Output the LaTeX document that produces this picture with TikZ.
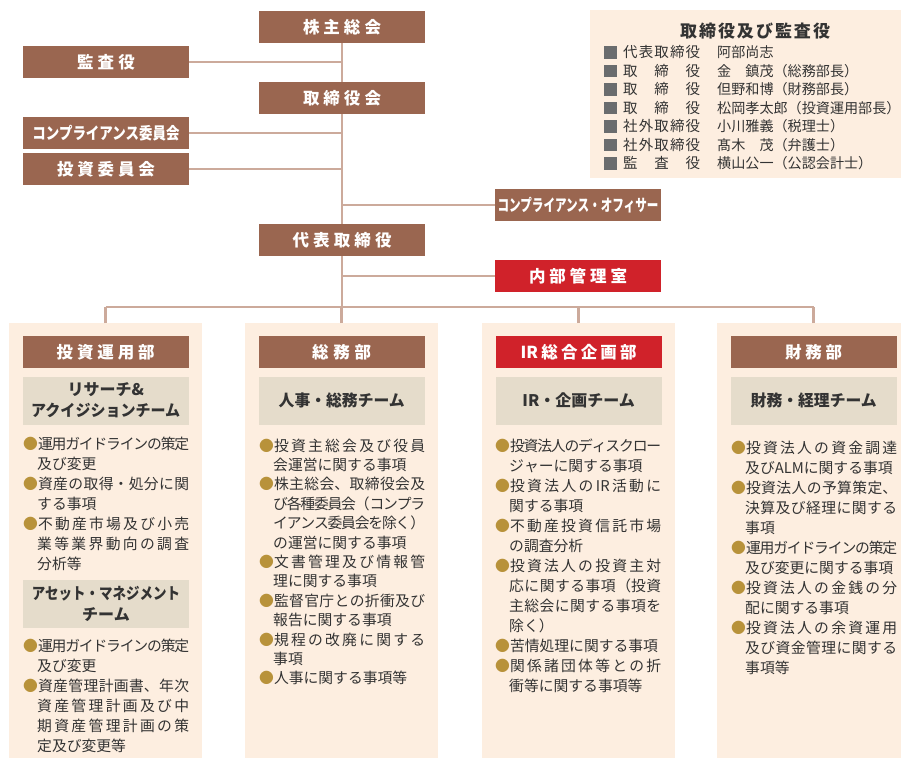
\documentclass[tikz,border=0pt]{standalone}
\usepackage{fontspec}
\usepackage{graphicx}
\setmainfont{Noto Sans CJK JP}
\usetikzlibrary{positioning}
\definecolor{OrgBrown}{RGB}{154,102,80}
\definecolor{OrgRed}{RGB}{208,34,42}
\definecolor{OrgLine}{RGB}{204,170,155}
\definecolor{OrgPeach}{RGB}{253,238,224}
\definecolor{OrgTeam}{RGB}{229,220,203}
\definecolor{OrgGold}{RGB}{184,146,58}
\definecolor{OrgGray}{RGB}{106,108,110}
\definecolor{OrgText}{RGB}{51,51,51}
\XeTeXlinebreaklocale "ja"
\XeTeXlinebreakskip=0pt plus 20pt minus 2pt
% spread letters over a fixed width
\def\spreadgo#1{#1\spreadnext}
\def\spreadnext#1{\ifx\relax#1\else\hfil#1\expandafter\spreadnext\fi}
\newcommand\spread[2]{\hbox to #1{\expandafter\spreadgo#2\relax}}
\newcommand\fitw[2]{\resizebox{#1}{\height}{#2}}
% bullet item
\newcommand\itm[1]{\hangindent=14pt\hangafter=1\noindent\textcolor{OrgGold}{●}#1\par}
\let\brk\linebreak

\begin{document}
\begin{tikzpicture}[x = 1pt, y = -1pt]%
    %
    \tikzstyle{unit} = [fill = OrgBrown, text = white, minimum width = 166pt, minimum height = 32pt, inner sep = 0pt, font = \fontsize{16.5}{16.5}\selectfont\bfseries]%
    \tikzstyle{redunit} = [unit, fill = OrgRed]%
    \tikzstyle{team} = [fill = OrgTeam, text = OrgText, minimum width = 166pt, minimum height = 48pt, inner sep = 0pt, align = center, font = \fontsize{16}{21}\selectfont\bfseries]%
    \tikzstyle{column} = [fill = OrgPeach, anchor = north west, minimum width = 193pt, minimum height = 440pt, inner sep = 0pt]%
    \tikzstyle{duty} = [anchor = north west, inner sep = 0pt, text width = 166pt, align = justify, text = OrgText, font = \fontsize{14.8}{20}\selectfont]%
    \tikzstyle{link} = [draw = OrgLine, line width = 2.5pt]%
    \tikzstyle{sqbox} = [fill = OrgGray, minimum size = 12.5pt, inner sep = 0pt]%
    %
    \useasboundingbox (0, 0) rectangle (901, 757);%
    %
    % Officers box
    \node (officers) [fill = OrgPeach, anchor = north west, minimum width = 320pt, minimum height = 168pt, inner sep = 0pt] at (590, 10) {};%
    \node (officerstitle) [text = OrgText, font = \fontsize{17}{17}\selectfont\bfseries] at (755, 31) {\spread{150pt}{取締役及び監査役}};%
    \foreach \post/\who [count = \i] in {代表取締役/阿部尚志, 取締役/金　鎮茂（総務部長）, 取締役/但野和博（財務部長）, 取締役/松岡孝太郎（投資運用部長）, 社外取締役/小川雅義（税理士）, 社外取締役/髙木　茂（弁護士）, 監査役/横山公一（公認会計士）}{%
        \node (sq\i) [sqbox] at (610.5, 33.8 + 18.5*\i) {};%
        \node (post\i) [anchor = west, inner sep = 0pt, text = OrgText, font = \fontsize{14.5}{14.5}\selectfont] at (623, 33.8 + 18.5*\i) {\spread{77pt}{\post}};%
        \node (who\i) [anchor = west, inner sep = 0pt, text = OrgText, font = \fontsize{14.1}{14.1}\selectfont] at (717, 33.8 + 18.5*\i) {\who};%
    }%
    %
    % Governance
    \node (soukai) [unit] at (342, 27) {\spread{78pt}{株主総会}};%
    \node (kansa) [unit] at (106, 62) {\spread{58pt}{監査役}};%
    \node (board) [unit] at (342, 98) {\spread{78pt}{取締役会}};%
    \node (ccomm) [unit] at (106, 133) {\fitw{147pt}{コンプライアンス委員会}};%
    \node (icomm) [unit] at (106, 169) {\spread{98pt}{投資委員会}};%
    \node (cofficer) [unit] at (578, 205) {\fitw{161pt}{コンプライアンス・オフィサー}};%
    \node (ceo) [unit] at (342, 240) {\spread{99pt}{代表取締役}};%
    \node (audit) [redunit] at (578, 276) {\spread{98pt}{内部管理室}};%
    \coordinate (bus) at (342, 307);%
    %
    % Columns
    \node (col1) [column] at (9, 323) {};%
    \node (col2) [column] at (245, 323) {};%
    \node (col3) [column] at (482, 323) {};%
    \node (col4) [column] at (717, 323) {};%
    %
    % Departments
    \node (hd1) [unit, below = 13pt of col1.north] {\spread{98pt}{投資運用部}};%
    \node (hd2) [unit, below = 13pt of col2.north] {\spread{59pt}{総務部}};%
    \node (hd3) [redunit, below = 13pt of col3.north] {\spread{116pt}{{IR}総合企画部}};%
    \node (hd4) [unit, below = 13pt of col4.north] {\spread{57pt}{財務部}};%
    %
    % Teams
    \node (tm1a) [team, below = 8pt of hd1] {リサーチ\&\\\fitw{149pt}{アクイジションチーム}};%
    \node (tm1b) [team] at (106, 604) {\fitw{148pt}{アセット・マネジメント}\\チーム};%
    \node (tm2) [team, below = 8pt of hd2] {\fitw{126pt}{人事・総務チーム}};%
    \node (tm3) [team, below = 8pt of hd3] {IR・企画チーム};%
    \node (tm4) [team, below = 8pt of hd4] {\fitw{126pt}{財務・経理チーム}};%
    %
    % Duties
    \node (duty1a) [duty] at (23, 436.5) {%
        \itm{運用ガイドラインの策定\brk 及び変更}%
        \itm{資産の取得・処分に関\brk する事項}%
        \itm{不動産市場及び小売\brk 業等業界動向の調査\brk 分析等}};%
    \node (duty1b) [duty] at (23, 638.5) {%
        \itm{運用ガイドラインの策定\brk 及び変更}%
        \itm{資産管理計画書、年次\brk 資産管理計画及び中\brk 期資産管理計画の策\brk 定及び変更等}};%
    \node (duty2) [duty, font = \fontsize{14.8}{19.4}\selectfont] at (259, 438.5) {%
        \itm{投資主総会及び役員\brk 会運営に関する事項}%
        \itm{株主総会、取締役会及\brk び各種委員会（コンプラ\brk イアンス委員会を除く）\brk の運営に関する事項}%
        \itm{文書管理及び情報管\brk 理に関する事項}%
        \itm{監督官庁との折衝及び\brk 報告に関する事項}%
        \itm{規程の改廃に関する\brk 事項}%
        \itm{人事に関する事項等}};%
    \node (duty3) [duty] at (495, 438.5) {%
        \itm{投資法人のディスクロー\brk ジャーに関する事項}%
        \itm{投資法人のIR活動に\brk 関する事項}%
        \itm{不動産投資信託市場\brk の調査分析}%
        \itm{投資法人の投資主対\brk 応に関する事項（投資\brk 主総会に関する事項を\brk 除く）}%
        \itm{苦情処理に関する事項}%
        \itm{関係諸団体等との折\brk 衝等に関する事項等}};%
    \node (duty4) [duty] at (731, 440.5) {%
        \itm{投資法人の資金調達\brk 及びALMに関する事項}%
        \itm{投資法人の予算策定、\brk 決算及び経理に関する\brk 事項}%
        \itm{運用ガイドラインの策定\brk 及び変更に関する事項}%
        \itm{投資法人の金銭の分\brk 配に関する事項}%
        \itm{投資法人の余資運用\brk 及び資金管理に関する\brk 事項等}};%
    %
    % Links
    \draw [link] (soukai.south) -- (board.north);%
    \draw [link] (board.south) -- (ceo.north);%
    \draw [link] (kansa.east) -- (kansa.east -| soukai.south);%
    \draw [link] (ccomm.east) -- (ccomm.east -| board.south);%
    \draw [link] (icomm.east) -- (icomm.east -| board.south);%
    \draw [link] (cofficer.west) -- (cofficer.west -| board.south);%
    \draw [link] (ceo.south) -- (bus);%
    \draw [link] (audit.west) -- (audit.west -| ceo.south);%
    \draw [link] (col1.north |- bus) -- (col4.north |- bus);%
    \foreach \c in {1, ..., 4}%
        \draw [link] (col\c.north) -- (col\c.north |- bus);%
    %
\end{tikzpicture}
\end{document}
